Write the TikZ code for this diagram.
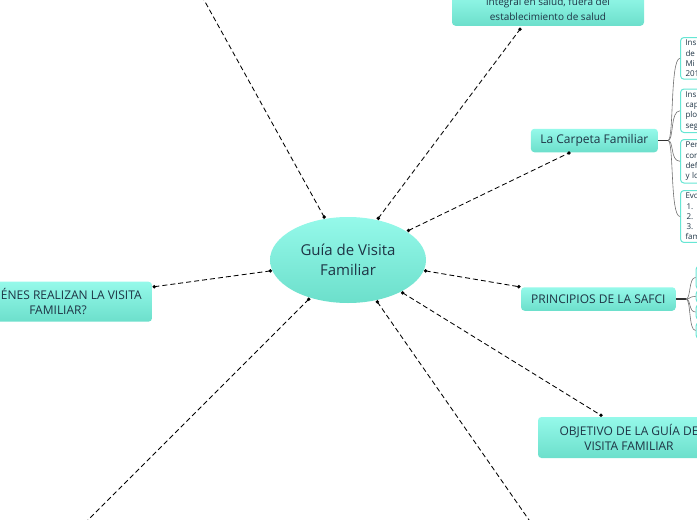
\documentclass[tikz,border=0pt]{standalone}
\usepackage{fontspec}
\setmainfont{Open Sans}
\usetikzlibrary{shapes.geometric}
\definecolor{txt}{HTML}{1E3445}
\definecolor{ctop}{HTML}{95F9EA}
\definecolor{cbot}{HTML}{6CDFCB}
\definecolor{cedge}{HTML}{66E6D4}
\definecolor{bracec}{HTML}{707070}
\tikzset{
 topic/.style={rectangle, rounded corners=3.5pt, top color=ctop, bottom color=cbot, text=txt, align=center, inner sep=0pt, font=\fontsize{12}{15}\selectfont},
 leaf/.style={rectangle, rounded corners=3.5pt, draw=cedge, line width=1pt, fill=white, anchor=north west, text=txt, text width=32pt, align=left, inner xsep=5pt, inner ysep=2.5pt, font=\fontsize{8}{10.3}\selectfont},
 link/.style={line width=0.85pt, dash pattern=on 5pt off 3pt, black},
 stem/.style={line width=1.3pt, color=black!80},
 branch/.style={line width=0.6pt, color=bracec},
 dotc/.style={fill=black},
}
\begin{document}
\begin{tikzpicture}[x=1pt,y=-1pt]
\useasboundingbox (0,0) rectangle (697,520);
\clip (0,0) rectangle (697,520);

% central topic
\node[ellipse, minimum width=156, minimum height=86, inner sep=0pt, outer sep=2pt,
      top color=ctop, bottom color=cbot, text=txt, align=center,
      font=\fontsize{15}{20}\selectfont] (c) at (348,260) {Guía de Visita\\Familiar};

% main topics
\node[topic, anchor=south, minimum width=192, inner ysep=5pt, font=\fontsize{10}{15}\selectfont] (t) at (548,26) {integral en salud, fuera del\\establecimiento de salud};
\node[topic, minimum width=127, minimum height=23.5] (cf) at (594.4,140.5) {La Carpeta Familiar};
\node[topic, minimum width=154.7, minimum height=23.5] (ps) at (598.4,299) {PRINCIPIOS DE LA SAFCI};
\node[topic, minimum width=182, minimum height=41] (ob) at (629,437.5) {OBJETIVO DE LA GUÍA DE\\VISITA FAMILIAR};
\node[topic, minimum width=188, minimum height=40] (qv) at (58,301.7) {¿QUIÉNES REALIZAN LA VISITA\\FAMILIAR?};

% connector ends
\path (t.south) ++(-28,3.3) coordinate (te);
\path (cf.south) ++(-25.4,0.5) coordinate (cfe);
\path (ps.west) ++(-2,-12.3) coordinate (pse);
\path (ob.north) ++(-28,-1.5) coordinate (obe);
\path (qv.east) ++(2,-15) coordinate (qve);
\coordinate (tl) at (202.4,-3);
\coordinate (bl) at (83,525);
\coordinate (br) at (532.5,525);

\draw[link] (c.119) -- (tl);
\draw[link] (c.54) -- (te);
\draw[link] (c.26) -- (cfe);
\draw[link] (c.-8.5) -- (pse);
\draw[link] (c.-31) -- (obe);
\draw[link] (c.-55) -- (br);
\draw[link] (c.-135) -- (bl);
\draw[link] (c.188) -- (qve);
\foreach \p in {c.119,c.54,c.26,c.-8.5,c.-31,c.-55,c.-135,c.188,te,cfe,pse,obe,qve}
  \fill[dotc] (\p) circle (1.9);

% subtopics of La Carpeta Familiar
\node[leaf] (k1) at (680,37) {Ins\\de\\Mi\\201};
\node[leaf] (k2) at (680,88.5) {Ins\\cap\\plo\\seg};
\node[leaf] (k3) at (680,139) {Per\\con\\def\\y lo};
\node[leaf] (k4) at (680,190) {Evo\\\hspace*{1pt}1. I\\\hspace*{1pt}2. I\\\hspace*{1pt}3. (\\fam};
\coordinate (j1) at (668,140.5);
\draw[stem] (cf.east) -- (j1);
\foreach \k in {k1,k2,k3,k4}
  \draw[branch] (j1) .. controls +(6,0) and ([xshift=-10pt]\k.west) .. (\k.west);

% subtopics of PRINCIPIOS DE LA SAFCI
\node[leaf, text width=10pt, minimum height=23] (p1) at (695.5,265.5) {};
\node[leaf, text width=10pt, minimum height=12] (p2) at (695.5,290) {};
\node[leaf, text width=10pt, minimum height=15] (p3) at (695.5,304) {};
\node[leaf, text width=10pt, minimum height=16] (p4) at (695.5,322) {};
\coordinate (j2) at (686,299);
\draw[stem] (ps.east) -- (j2);
\foreach \k in {p1,p2,p3,p4}
  \draw[branch] (j2) .. controls +(5,0) and ([xshift=-7pt]\k.west) .. (\k.west);
\end{tikzpicture}
\end{document}
